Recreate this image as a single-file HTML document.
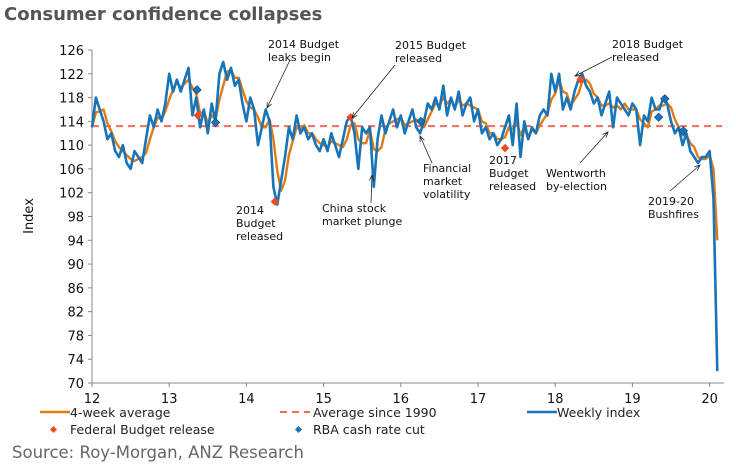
<!DOCTYPE html>
<html><head><meta charset="utf-8"><style>
body{margin:0;background:#fff;width:736px;height:466px;overflow:hidden;font-family:"DejaVu Sans","Liberation Sans",sans-serif}
svg text{font-family:"DejaVu Sans","Liberation Sans",sans-serif}
</style></head><body>
<svg id="chart" width="736" height="466">
<text x="4" y="20" font-size="18" font-weight="bold" fill="#555" font-family="Liberation Sans">Consumer confidence collapses</text>
<g id="axes"></g>
<g id="series"></g>
<g id="notes" font-size="11" fill="#111"></g>
<g id="legend" font-size="12.5" fill="#222">
<line x1="40" y1="412" x2="70" y2="412" stroke="#e07b12" stroke-width="2.5"/>
<text x="70" y="417">4-week average</text>
<line x1="280" y1="412" x2="310" y2="412" stroke="#f56a5a" stroke-width="2" stroke-dasharray="7,5"/>
<text x="313" y="417">Average since 1990</text>
<line x1="527" y1="412" x2="557" y2="412" stroke="#1874b8" stroke-width="2.5"/>
<text x="557" y="417">Weekly index</text>
<rect x="51" y="427" width="5" height="5" fill="#f04b22" transform="rotate(45 53.5 429.5)"/>
<text x="70" y="434">Federal Budget release</text>
<rect x="296" y="427" width="5" height="5" fill="#1874b8" transform="rotate(45 298.5 429.5)"/>
<text x="313" y="434">RBA cash rate cut</text>
</g>
<text x="12" y="458" font-size="16.5" fill="#666">Source: Roy-Morgan, ANZ Research</text>
</svg>
<script>
const startYear = 12.0;
const yearStep = 0.05;
const weeklyValues = [
113,118,116,114,111,112,109,108,110,107,106,109,108,107,111,115,113,116,114,117,
122,119,121,119,121,123,115,118,113,116,112,117,114,122,124,121,123,120,121,117,
114,118,116,110,113,116,114,103,100,104,108,113,111,115,112,113,111,112,110,109,
111,109,112,110,108,111,114,115,112,106,113,112,113,103,111,115,112,114,116,113,
115,112,114,116,113,112,114,117,116,118,116,120,115,118,116,119,115,117,118,114,
116,112,113,111,112,110,111,113,115,110,117,108,114,111,113,112,115,116,115,122,
119,122,116,118,116,119,121,122,120,119,117,118,115,117,119,113,118,117,116,115,
117,116,110,115,114,118,116,116,118,117,114,112,113,110,112,109,108,107,108,108,
109,101,72];
const longRunAverage = 113.2;
const budgetYears = [13.37,14.37,15.35,17.35,18.33];
const budgetValues = [115,100.5,114.7,109.5,121];
const rbaYears = [13.36,13.6,16.26,19.34,19.42,19.66];
const rbaValues = [119.3,113.8,114,114.7,117.8,112.4];
const xTicks = [12,13,14,15,16,17,18,19,20];
const yTicks = [70,74,78,82,86,90,94,98,102,106,110,114,118,122,126];

const NS="http://www.w3.org/2000/svg";
const X0=92,PX=77.2,Y0=50,PY=333/56;
const xs=t=>X0+(t-12)*PX;
const ys=v=>Y0+(126-v)*PY;
function mk(tag,attrs,parent){const e=document.createElementNS(NS,tag);for(const k in attrs)e.setAttribute(k,attrs[k]);parent.appendChild(e);return e;}
const axes=document.getElementById('axes'),series=document.getElementById('series'),notes=document.getElementById('notes');

let a=mk('line',{x1:X0,y1:Y0,x2:X0,y2:ys(70),stroke:'#888'},axes);


a=mk('line',{x1:X0,y1:ys(70),x2:724,y2:ys(70),stroke:'#888'},axes);


yTicks.forEach(v=>{
 mk('line',{x1:X0-4,y1:ys(v),x2:X0,y2:ys(v),stroke:'#888'},axes);
 const t=mk('text',{x:X0-8,y:ys(v)+5,'text-anchor':'end','font-size':13,fill:'#111'},axes);t.textContent=v;
 
 
});
xTicks.forEach(v=>{
 mk('line',{x1:xs(v),y1:ys(70),x2:xs(v),y2:ys(70)+4,stroke:'#888'},axes);
 const t=mk('text',{x:xs(v),y:ys(70)+20,'text-anchor':'middle','font-size':13,fill:'#111'},axes);t.textContent=v;
 
 
});
const yl=mk('text',{x:0,y:0,transform:'translate(33,216) rotate(-90)','text-anchor':'middle','font-size':13,fill:'#111'},axes);yl.textContent='Index';



const avgLine=mk('line',{x1:X0,y1:ys(longRunAverage),x2:722,y2:ys(longRunAverage),stroke:'#f56a5a','stroke-width':2,'stroke-dasharray':'7,5'},series);



const avg4=weeklyValues.map((v,i)=>{const s=weeklyValues.slice(Math.max(0,i-2),i+1);return s.reduce((p,c)=>p+c,0)/s.length;});
const pts=arr=>arr.map((v,i)=>xs(startYear+i*yearStep).toFixed(1)+','+ys(v).toFixed(1)).join(' ');
const l4=mk('polyline',{points:pts(avg4),fill:'none',stroke:'#e07b12','stroke-width':2.4,'stroke-linejoin':'round'},series);


const lw=mk('polyline',{points:pts(weeklyValues),fill:'none',stroke:'#1874b8','stroke-width':2.6,'stroke-linejoin':'round'},series);


budgetYears.forEach((t,i)=>{const x=xs(t),y=ys(budgetValues[i]);
 const d=mk('rect',{x:x-3,y:y-3,width:6,height:6,fill:'#f04b22',transform:`rotate(45 ${x} ${y})`},series);
 
 });
rbaYears.forEach((t,i)=>{const x=xs(t),y=ys(rbaValues[i]);
 const d=mk('rect',{x:x-3,y:y-3,width:6,height:6,fill:'#1874b8',stroke:'#0d4a7a','stroke-width':0.6,transform:`rotate(45 ${x} ${y})`},series);
 
 });

const ann=[
 ['note-2014-leaks',268,48,['2014 Budget','leaks begin'],[290,60,267,108]],
 ['note-2015-budget',395,49,['2015 Budget','released'],[395,65,352,118]],
 ['note-2018-budget',612,48,['2018 Budget','released'],[612,57,575,76]],
 ['note-2014-budget',236,214,['2014','Budget','released'],null],
 ['note-china-plunge',322,212,['China stock','market plunge'],[371,203,372,175]],
 ['note-financial-volatility',423,172,['Financial','market','volatility'],[432,163,420,136]],
 ['note-2017-budget',489,164,['2017','Budget','released'],null],
 ['note-wentworth',546,177,['Wentworth','by-election'],[580,163,608,132]],
 ['note-bushfires',648,205,['2019-20','Bushfires'],[670,191,700,165]]
];
ann.forEach(([n,x,y,lines,ar])=>{
 const t=mk('text',{x:x,y:y},notes);
 
 
 lines.forEach((s,i)=>{const sp=mk('tspan',{x:x,dy:i?13:0},t);sp.textContent=s;});
 if(ar){const l=mk('line',{x1:ar[0],y1:ar[1],x2:ar[2],y2:ar[3],stroke:'#222','stroke-width':0.8},notes);
  
  
  const ang=Math.atan2(ar[3]-ar[1],ar[2]-ar[0]);
  const p=(da)=>[ar[2]-6*Math.cos(ang+da),ar[3]-6*Math.sin(ang+da)];
  const a1=p(0.4),a2=p(-0.4);
  const h=mk('polyline',{points:`${a1} ${ar[2]},${ar[3]} ${a2}`,fill:'none',stroke:'#222','stroke-width':0.8},notes);
  
  }
});
</script>
</body></html>
